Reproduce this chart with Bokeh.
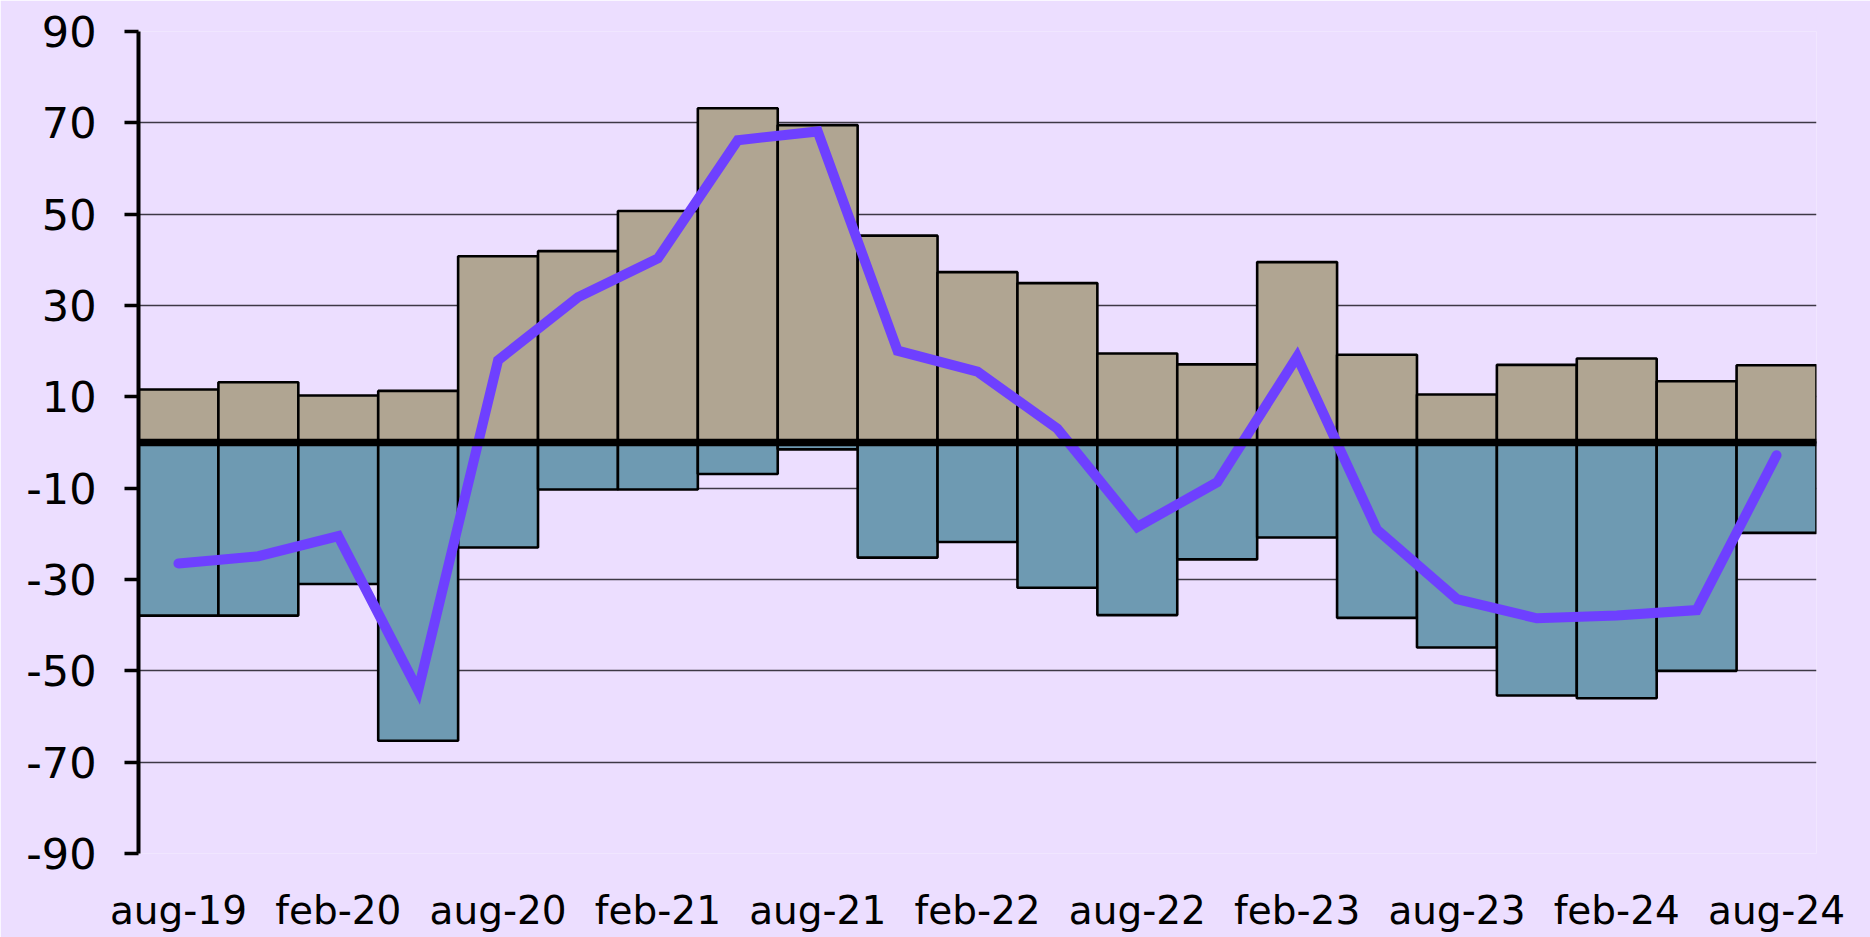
from bokeh.plotting import figure
from bokeh.models import FixedTicker, Span, Range1d, ColumnDataSource
from bokeh.embed import file_html
from bokeh.resources import INLINE

# ---- data ----
periods = ["aug-19", "nov-19", "feb-20", "may-20", "aug-20", "nov-20", "feb-21",
           "may-21", "aug-21", "nov-21", "feb-22", "may-22", "aug-22", "nov-22",
           "feb-23", "may-23", "aug-23", "nov-23", "feb-24", "may-24", "aug-24"]
positive = [11.6, 13.2, 10.3, 11.3, 40.8, 41.9, 50.7, 73.2, 69.5, 45.3, 37.3,
            34.9, 19.5, 17.1, 39.5, 19.2, 10.5, 17.0, 18.4, 13.4, 16.9]
negative = [-37.9, -37.9, -31.0, -65.3, -23.0, -10.3, -10.3, -6.9, -1.5, -25.2, -21.8,
            -31.8, -37.8, -25.6, -20.8, -38.4, -44.9, -55.4, -56.0, -50.0, -19.8]
net = [-26.5, -24.9, -20.5, -54.3, 18.0, 31.8, 40.3, 66.2, 68.1, 20.1, 15.5,
       3.0, -18.5, -8.7, 18.8, -19.1, -34.3, -38.5, -37.9, -36.7, -2.8]
y_ticks = [-90, -70, -50, -30, -10, 10, 30, 50, 70, 90]
y_labels = ["-90", "-70", "-50", "-30", "-10", "10", "30", "50", "70", "90"]

BG = "#ECDEFF"
TAN = "#B0A592"
BLUE = "#6E9AB2"
PURPLE = "#6E40FF"
FONT = "DejaVu Sans"

idx = list(range(len(periods)))
src = ColumnDataSource(dict(x=idx, pos=positive, neg=negative, net=net))

p = figure(width=1870, height=937, output_backend="svg", toolbar_location=None,
           x_range=Range1d(-0.5, len(periods) - 0.5), y_range=Range1d(-90, 90),
           background_fill_color=BG, border_fill_color=BG,
           min_border_left=138, min_border_right=54, min_border_top=31, min_border_bottom=84)
p.outline_line_color = None

# grid
p.xgrid.visible = False
p.ygrid.ticker = FixedTicker(ticks=y_ticks)
p.ygrid.grid_line_color = "#3d3845"
p.ygrid.grid_line_width = 1.3

# bars
p.vbar(x="x", top="pos", bottom=0, width=1, source=src,
       fill_color=TAN, line_color="black", line_width=2.6)
p.vbar(x="x", top=0, bottom="neg", width=1, source=src,
       fill_color=BLUE, line_color="black", line_width=2.6)

# zero line
p.add_layout(Span(location=0, dimension="width", line_color="black", line_width=7.5))

# net line
p.line(x="x", y="net", source=src, line_color=PURPLE, line_width=10,
       line_cap="round", line_join="miter")

# y axis
ya = p.yaxis[0]
ya.ticker = FixedTicker(ticks=y_ticks)
ya.major_label_overrides = dict(zip(y_ticks, y_labels))
ya.axis_line_color = "black"
ya.axis_line_width = 4
ya.major_tick_line_color = "black"
ya.major_tick_line_width = 3.5
ya.major_tick_out = 14
ya.major_tick_in = 0
ya.minor_tick_line_color = None
ya.major_label_standoff = 28
ya.major_label_text_font = FONT
ya.major_label_text_font_size = "43px"
ya.major_label_text_color = "black"

# x axis
xa = p.xaxis[0]
xa.ticker = FixedTicker(ticks=idx[::2])
xa.major_label_overrides = {i: periods[i] for i in idx[::2]}
xa.axis_line_color = None
xa.major_tick_line_color = None
xa.minor_tick_line_color = None
xa.major_label_standoff = 28
xa.major_label_text_font = FONT
xa.major_label_text_font_size = "39px"
xa.major_label_text_color = "black"

open("out.html", "w").write(file_html(p, INLINE))
